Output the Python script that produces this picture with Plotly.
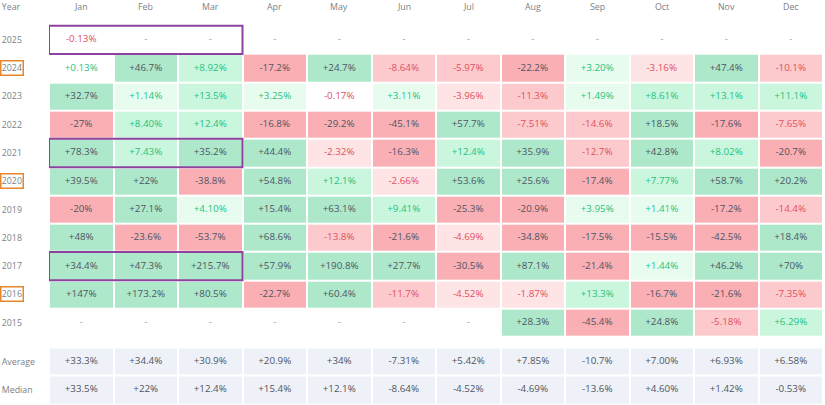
import plotly.graph_objects as go

months = ["Jan", "Feb", "Mar", "Apr", "May", "Jun", "Jul", "Aug", "Sep", "Oct", "Nov", "Dec"]
years = ["2025", "2024", "2023", "2022", "2021", "2020", "2019", "2018", "2017", "2016", "2015"]
halving_years = ["2024", "2020", "2016"]
boxed_years = ["2025", "2021", "2017"]

N = None
r2025 = [-0.13, N, N, N, N, N, N, N, N, N, N, N]
r2024 = [0.13, 46.7, 8.92, -17.2, 24.7, -8.64, -5.97, -22.2, 3.20, -3.16, 47.4, -10.1]
r2023 = [32.7, 1.14, 13.5, 3.25, -0.17, 3.11, -3.96, -11.3, 1.49, 8.61, 13.1, 11.1]
r2022 = [-27, 8.40, 12.4, -16.8, -29.2, -45.1, 57.7, -7.51, -14.6, 18.5, -17.6, -7.65]
r2021 = [78.3, 7.43, 35.2, 44.4, -2.32, -16.3, 12.4, 35.9, -12.7, 42.8, 8.02, -20.7]
r2020 = [39.5, 22, -38.8, 54.8, 12.1, -2.66, 53.6, 25.6, -17.4, 7.77, 58.7, 20.2]
r2019 = [-20, 27.1, 4.10, 15.4, 63.1, 9.41, -25.3, -20.9, 3.95, 1.41, -17.2, -14.4]
r2018 = [48, -23.6, -53.7, 68.6, -13.8, -21.6, -4.69, -34.8, -17.5, -15.5, -42.5, 18.4]
r2017 = [34.4, 47.3, 215.7, 57.9, 190.8, 27.7, -30.5, 87.1, -21.4, 1.44, 46.2, 70]
r2016 = [147, 173.2, 80.5, -22.7, 60.4, -11.7, -4.52, -1.87, 13.3, -16.7, -21.6, -7.35]
r2015 = [N, N, N, N, N, N, N, 28.3, -45.4, 24.8, -5.18, 6.29]
rows = [r2025, r2024, r2023, r2022, r2021, r2020, r2019, r2018, r2017, r2016, r2015]

stat_labels = ["Average", "Median"]
average = [33.3, 34.4, 30.9, 20.9, 34, -7.31, 5.42, 7.85, -10.7, 7.00, 6.93, 6.58]
median = [33.5, 22, 12.4, 15.4, 12.1, -8.64, -4.52, -4.69, -13.6, 4.60, 1.42, -0.53]
stats = [average, median]

# styles
TIER_COLORS = {
    -3: "#f9afb4", -2: "#fccacd", -1: "#fee4e5", 0: "#ffffff",
    1: "#e7fcef", 2: "#c9f6dd", 3: "#ade8cb", 4: "#eef1f8",
}
DARK = "#4f5563"
GREEN = "#1fc382"
RED = "#e0505f"
DASH = "#a0a4ab"
LABEL = "#7a7f88"
FONT = "Open Sans"
CELL_FS = 9.8
LABEL_FS = 8.8


def tier(v):
    if v is None:
        return 0
    a = abs(v)
    s = 1 if v > 0 else -1
    if a >= 15:
        return 3 * s
    if a >= 5:
        return 2 * s
    if a >= 1:
        return 1 * s
    return 0


def fmt(v):
    if v is None:
        return "-"
    sign = "+" if v >= 0 else "-"
    a = abs(v)
    if a < 10:
        s = f"{a:.2f}"
    else:
        s = f"{a:.1f}"
        if s.endswith(".0"):
            s = s[:-2]
    return f"{sign}{s}%"


def text_color(v):
    if v is None:
        return DASH
    if abs(v) >= 15:
        return DARK
    return GREEN if v > 0 else RED


# discrete colorscale -3..4
lo, hi = -3, 4
cs = []
n = hi - lo + 1
for i, t in enumerate(range(lo, hi + 1)):
    cs.append([i / n, TIER_COLORS[t]])
    cs.append([(i + 1) / n, TIER_COLORS[t]])

year_y = list(range(len(years)))
stat_y = [len(years) + 0.37, len(years) + 1.37]
xs = list(range(len(months)))

fig = go.Figure()
fig.add_trace(go.Heatmap(
    z=[[tier(v) for v in r] for r in rows], x=xs, y=year_y,
    colorscale=cs, zmin=lo - 0.5, zmax=hi + 0.5, showscale=False,
    xgap=2, ygap=2, hoverinfo="skip"))
fig.add_trace(go.Heatmap(
    z=[[4 for v in r] for r in stats], x=xs, y=stat_y,
    colorscale=cs, zmin=lo - 0.5, zmax=hi + 0.5, showscale=False,
    xgap=2, ygap=2, hoverinfo="skip"))

tx, ty, tt, tc = [], [], [], []
for yi, r in zip(year_y, rows):
    for xi, v in zip(xs, r):
        tx.append(xi); ty.append(yi); tt.append(fmt(v)); tc.append(text_color(v))
for yi, r in zip(stat_y, stats):
    for xi, v in zip(xs, r):
        tx.append(xi); ty.append(yi); tt.append(fmt(v)); tc.append(DARK)

fig.add_trace(go.Scatter(
    x=tx, y=ty, text=tt, mode="text", textposition="middle center",
    textfont=dict(family=FONT, size=CELL_FS, color=tc), hoverinfo="skip",
    cliponaxis=False, showlegend=False))

# purple boxes
for yr in boxed_years:
    yi = years.index(yr)
    fig.add_shape(type="rect", xref="x", yref="y", x0=-0.5, x1=2.5,
                  y0=yi - 0.5, y1=yi + 0.5,
                  line=dict(color="#8c429e", width=2), layer="above")

W, H = 825, 405
ML, MR, MT, MB = 49, 2, 23, 1
pw = W - ML - MR
ph = H - MT - MB
label_x = -ML / pw

annotations = []
header_y = 1 + (MT - 7.5) / ph
annotations.append(dict(xref="paper", yref="paper", x=label_x, y=header_y,
                        text="Year", showarrow=False, xanchor="left", yanchor="middle",
                        font=dict(family=FONT, size=LABEL_FS, color=LABEL),
                        borderwidth=1.5, borderpad=0.3, bordercolor="rgba(0,0,0,0)"))
for xi, m in zip(xs, months):
    annotations.append(dict(xref="x", yref="paper", x=xi, y=header_y, text=m,
                            showarrow=False, xanchor="center", yanchor="middle",
                            font=dict(family=FONT, size=LABEL_FS, color=LABEL)))
for yi, yr in zip(year_y, years):
    annotations.append(dict(xref="paper", yref="y", x=label_x, y=yi, text=yr,
                            showarrow=False, xanchor="left", yanchor="middle",
                            font=dict(family=FONT, size=LABEL_FS, color=LABEL),
                            borderwidth=1.5, borderpad=0.3,
                            bordercolor="#e8862a" if yr in halving_years else "rgba(0,0,0,0)"))
for yi, lab in zip(stat_y, stat_labels):
    annotations.append(dict(xref="paper", yref="y", x=label_x, y=yi, text=lab,
                            showarrow=False, xanchor="left", yanchor="middle",
                            font=dict(family=FONT, size=LABEL_FS, color=LABEL),
                            borderwidth=1.5, borderpad=0.3, bordercolor="rgba(0,0,0,0)"))

px_per_unit = 28.3
y_bottom = stat_y[-1] + 0.5
y_top = y_bottom - ph / px_per_unit

fig.update_layout(
    width=W, height=H,
    margin=dict(l=ML, r=MR, t=MT, b=MB, pad=0),
    paper_bgcolor="white", plot_bgcolor="white",
    xaxis=dict(range=[-0.5, 11.5], visible=False, fixedrange=True),
    yaxis=dict(range=[y_bottom, y_top], visible=False, fixedrange=True),
    annotations=annotations,
    showlegend=False,
)

fig.write_html(
    "out.html",
    config={"displayModeBar": False},
    post_script="document.body.style.margin='0px';document.body.style.overflow='hidden';",
)
